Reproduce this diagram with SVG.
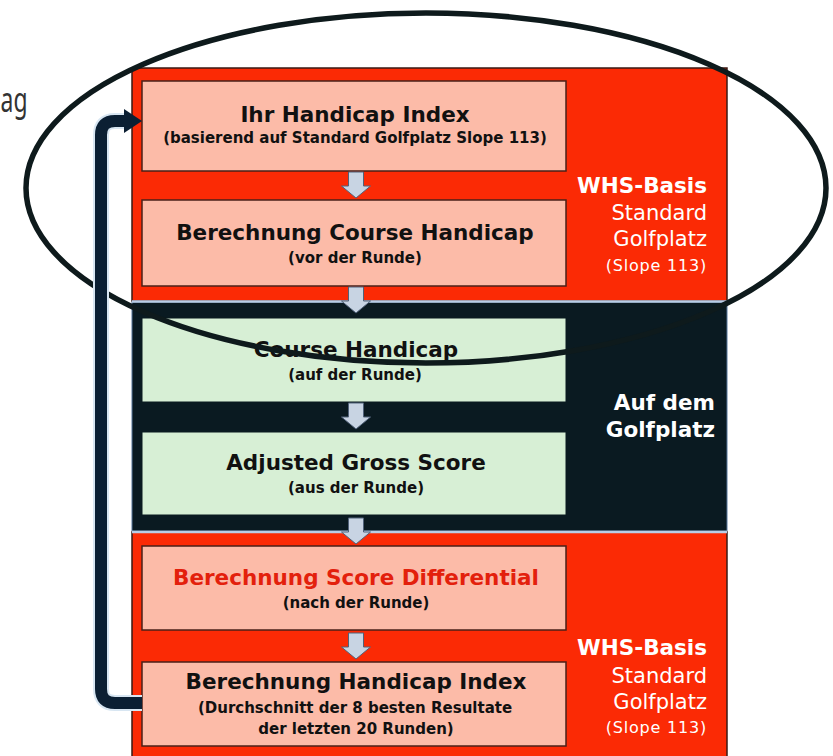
<svg xmlns="http://www.w3.org/2000/svg" width="833" height="756" viewBox="0 0 833 756">
<defs>
<style>
.panel-red{fill:#fb2a05;stroke:#3a1a14;stroke-width:1.5}
.panel-dark{fill:#0a1a21;stroke:#54759a;stroke-width:1}
.sep{stroke:#b9cde6;stroke-width:2.5}
.box-red{fill:#fcbba8;stroke:#4a2018;stroke-width:1.5}
.box-green{fill:#d7efd5;stroke:#0a1a21;stroke-width:1}
.t{font-family:"DejaVu Sans",Verdana,sans-serif;text-anchor:middle;fill:#111}
.title{font-size:21.5px;font-weight:bold}
.sub{font-size:15px;font-weight:bold}
.lab{font-family:"DejaVu Sans",Verdana,sans-serif;text-anchor:end;fill:#fff}
.labb{font-size:21.5px;font-weight:bold}
.labr{font-size:21px}
.labs{font-size:16px;letter-spacing:0.8px}
.flow{fill:#c8d4e3;stroke:#51627a;stroke-width:1}
.loop{fill:none;stroke:#0b1f33;stroke-width:12;stroke-linejoin:round}
.halo{fill:none;stroke:#d8e6f2;stroke-width:16;stroke-linejoin:round}
.ring{fill:none;stroke:#0e1a1c;stroke-width:5.5}
.cut{font-family:"Noto Sans","Liberation Sans",sans-serif;font-size:34px;fill:#333}
</style>
<path id="blk" d="M-7.5,0 H7.5 V14 H14.5 L0,26 L-14.5,14 H-7.5 Z"/>
</defs>

<text class="cut" x="0.5" y="112" textLength="27" lengthAdjust="spacingAndGlyphs">ag</text>

<g id="panels">
<rect id="panel-whs-top" class="panel-red" x="132" y="68" width="595" height="233"/>
<rect id="panel-golf" class="panel-dark" x="132" y="302" width="595" height="229"/>
<rect id="panel-whs-bottom" class="panel-red" x="132" y="532" width="595" height="230"/>
<line class="sep" x1="132" y1="301.5" x2="727" y2="301.5"/>
<line class="sep" x1="132" y1="532" x2="727" y2="532"/>
</g>

<g id="node-handicap-index">
<rect class="box-red" x="142" y="81" width="424" height="90"/>
<text class="t title" x="355" y="122">Ihr Handicap Index</text>
<text class="t sub" x="355" y="143">(basierend auf Standard Golfplatz Slope 113)</text>
</g>

<g id="node-course-handicap-calc">
<rect class="box-red" x="142" y="200" width="424" height="86"/>
<text class="t title" x="355" y="240">Berechnung Course Handicap</text>
<text class="t sub" x="355" y="263">(vor der Runde)</text>
</g>

<g id="node-course-handicap">
<rect class="box-green" x="142" y="318" width="424" height="84"/>
<text class="t title" x="356" y="357">Course Handicap</text>
<text class="t sub" x="355" y="380">(auf der Runde)</text>
</g>

<g id="node-adjusted-gross">
<rect class="box-green" x="142" y="432" width="424" height="83"/>
<text class="t title" x="356" y="470">Adjusted Gross Score</text>
<text class="t sub" x="356" y="493">(aus der Runde)</text>
</g>

<g id="node-score-differential">
<rect class="box-red" x="142" y="546" width="424" height="84"/>
<text class="t title" x="356" y="585" style="fill:#e3200c">Berechnung Score Differential</text>
<text class="t sub" x="356" y="608">(nach der Runde)</text>
</g>

<g id="node-handicap-calc">
<rect class="box-red" x="142" y="662" width="424" height="84"/>
<text class="t title" x="356" y="689">Berechnung Handicap Index</text>
<text class="t sub" x="355" y="713">(Durchschnitt der 8 besten Resultate</text>
<text class="t sub" x="356" y="734">der letzten 20 Runden)</text>
</g>

<g id="label-whs-top">
<text class="lab labb" x="707" y="193">WHS-Basis</text>
<text class="lab labr" x="707" y="220">Standard</text>
<text class="lab labr" x="707" y="246">Golfplatz</text>
<text class="lab labs" x="707" y="271">(Slope 113)</text>
</g>

<g id="label-golf">
<text class="lab labb" x="715" y="410">Auf dem</text>
<text class="lab labb" x="715" y="437">Golfplatz</text>
</g>

<g id="label-whs-bottom">
<text class="lab labb" x="707" y="655">WHS-Basis</text>
<text class="lab labr" x="707" y="683">Standard</text>
<text class="lab labr" x="707" y="709">Golfplatz</text>
<text class="lab labs" x="707" y="733">(Slope 113)</text>
</g>

<g id="annotation-ellipse">
<ellipse class="ring" cx="426" cy="188" rx="400" ry="175"/>
</g>

<g id="connectors">
<use href="#blk" class="flow" transform="translate(356,172)"/>
<use href="#blk" class="flow" transform="translate(356,287)"/>
<use href="#blk" class="flow" transform="translate(356,403)"/>
<use href="#blk" class="flow" transform="translate(356,518)"/>
<use href="#blk" class="flow" transform="translate(356,633)"/>
<path class="halo" d="M142,703 H115 Q101,703 101,689 V135 Q101,121 115,121 H127"/>
<path class="loop" d="M142,703 H115 Q101,703 101,689 V135 Q101,121 115,121 H127"/>
<polygon points="124,109 142,121 124,133" fill="#0b1f33"/>
</g>
</svg>
